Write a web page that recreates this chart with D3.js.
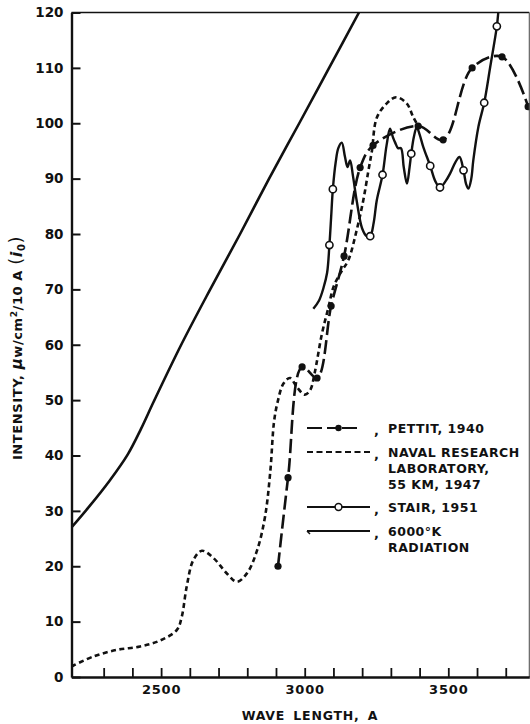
<!DOCTYPE html>
<html>
<head>
<meta charset="utf-8">
<script src="https://cdn.jsdelivr.net/npm/d3@7/dist/d3.min.js"></script>
<style>
  html, body { margin: 0; padding: 0; background: #fff; }
  svg { display: block; }
  text { font-family: "DejaVu Sans", sans-serif; font-weight: bold; fill: #111; }
</style>
</head>
<body>
<script>
// ---------------- DATA ----------------
// 6000 K black-body radiation curve
const bbCurve = [[2188,27],[2250,30.8],[2320,35.4],[2384,40.2],[2430,44.8],[2474,49.7],[2570,60],[2671,70],[2775,80],[2876,90],[2981,100],[3085,110],[3189,120]];

// Naval Research Laboratory, 55 km, 1947 (short dashes)
const nrlCurve = [[2188,1.9],[2264,3.7],[2346,4.9],[2427,5.5],[2497,6.6],[2555,8.5],[2572,10.9],[2589,16.3],[2612,21.1],[2642,22.8],[2682,21.5],[2729,18.7],[2764,17.2],[2800,18.8],[2835,23],[2862,29],[2880,37],[2893,46],[2905,49.5],[2926,53],[2949,54],[2972,52.4],[3000,51],[3019,51.8],[3035,55],[3060,62],[3083,66.8],[3100,70.4],[3125,73],[3152,75.3],[3181,80.7],[3204,86.1],[3222,91.5],[3234,95],[3251,101],[3286,103.6],[3318,104.7],[3355,103.6],[3378,101.1],[3395,99.5]];

// Pettit, 1940 (long dashes, filled dots)
const pettitPoints = [[2907,20],[2942,36],[2991,56],[3043,54],[3092,67],[3137,76],[3193,92],[3238,96],[3395,99.5],[3482,97],[3583,110],[3687,112],[3778,103]];

// Stair, 1951 (solid line, open circles)
const stairCurve = [[3030,66.5],[3050,68],[3065,70.2],[3078,73],[3086,78],[3092,83],[3098,88.1],[3108,93],[3117,95.5],[3129,96.5],[3140,94],[3149,92.1],[3158,93.3],[3168,90.5],[3181,86],[3200,81],[3216,79.6],[3228,79.6],[3240,82],[3251,86.1],[3271,90.7],[3285,96],[3297,99],[3307,97.5],[3315,96.5],[3325,95.5],[3335,95.5],[3345,92],[3356,89.1],[3365,92],[3371,94.5],[3380,97.5],[3390,99.3],[3400,98],[3413,95.7],[3437,92.3],[3455,89.5],[3471,88.4],[3490,89.5],[3506,90.9],[3525,93],[3539,93.9],[3553,91.5],[3562,89],[3570,88.2],[3580,90],[3587,93.3],[3605,99.4],[3625,103.7],[3646,110.2],[3669,117.5],[3674,120],[3676,121]];
const stairPoints = [[3086,78],[3098,88.1],[3228,79.6],[3271,90.7],[3371,94.5],[3437,92.3],[3471,88.4],[3553,91.5],[3625,103.7],[3669,117.5]];

// Axis ticks
const xTickValues = [2300,2400,2500,2600,2700,2800,2900,3000,3100,3200,3300,3400,3500,3600,3700];
const xTickLabels = [2500,3000,3500];
const yTickValues = [0,10,20,30,40,50,60,70,80,90,100,110,120];

// Legend labels
const legendLabels = [
  ["PETTIT, 1940"],
  ["NAVAL  RESEARCH", "LABORATORY,", "55 KM, 1947"],
  ["STAIR, 1951"],
  ["6000°K", "RADIATION"]
];

// ---------------- CHART ----------------
const W = 530, H = 724;
const svg = d3.select("body").append("svg").attr("width", W).attr("height", H);
svg.append("rect").attr("width", W).attr("height", H).attr("fill", "#fff");

const x = d3.scaleLinear().domain([2188, 3782]).range([71.5, 529.3]);
const y = d3.scaleLinear().domain([0, 120]).range([677, 12.5]);

svg.append("defs").append("clipPath").attr("id", "plot")
  .append("rect").attr("x", x.range()[0]).attr("y", y(120)).attr("width", x.range()[1] - x.range()[0] + 2).attr("height", y(0) - y(120));

const g = svg.append("g").attr("clip-path", "url(#plot)");
const line = d3.line().x(d => x(d[0])).y(d => y(d[1])).curve(d3.curveCatmullRom.alpha(0.5));

// frame
svg.append("line").attr("x1", x.range()[0]).attr("x2", x.range()[1]).attr("y1", y(120)).attr("y2", y(120)).attr("stroke", "#111").attr("stroke-width", 1.6);
svg.append("line").attr("x1", x.range()[1]).attr("x2", x.range()[1]).attr("y1", y(120)).attr("y2", y(0)).attr("stroke", "#555").attr("stroke-width", 1.1);

// curves
g.append("path").datum(bbCurve).attr("d", line).attr("fill", "none").attr("stroke", "#111").attr("stroke-width", 2.6);
g.append("path").datum(nrlCurve).attr("d", line).attr("fill", "none").attr("stroke", "#111").attr("stroke-width", 2.6).attr("stroke-dasharray", "5,3.5");
g.append("path").datum(pettitPoints).attr("d", line).attr("fill", "none").attr("stroke", "#111").attr("stroke-width", 2.6).attr("stroke-dasharray", "14,5");
g.append("path").datum(stairCurve).attr("d", line).attr("fill", "none").attr("stroke", "#111").attr("stroke-width", 2.4);

g.selectAll("circle.pettit").data(pettitPoints).join("circle").attr("class", "pettit")
  .attr("cx", d => x(d[0])).attr("cy", d => y(d[1])).attr("r", 3.6).attr("fill", "#111");
g.selectAll("circle.stair").data(stairPoints).join("circle").attr("class", "stair")
  .attr("cx", d => x(d[0])).attr("cy", d => y(d[1])).attr("r", 3.6).attr("fill", "#fff").attr("stroke", "#111").attr("stroke-width", 1.6);

// axes
const yAxis = d3.axisLeft(y).tickValues(yTickValues).tickSizeInner(-9).tickSizeOuter(0).tickPadding(8).tickFormat(d3.format("d"));
const ya = svg.append("g").attr("transform", `translate(${x.range()[0]},0)`).call(yAxis);
ya.select(".domain").attr("stroke", "#111").attr("stroke-width", 2.4);
ya.selectAll(".tick line").attr("stroke", "#111").attr("stroke-width", 2);
ya.selectAll(".tick text").style("font-size", "13.5px").style("font-family", "DejaVu Sans").style("font-weight", "bold").attr("fill", "#111");

const xAxis = d3.axisBottom(x).tickValues(xTickValues).tickSizeInner(-9).tickSizeOuter(0).tickPadding(8)
  .tickFormat(d => xTickLabels.includes(d) ? String(d) : "");
const xa = svg.append("g").attr("transform", `translate(0,${y(0)})`).call(xAxis);
xa.select(".domain").attr("stroke", "#111").attr("stroke-width", 2.6);
xa.selectAll(".tick line").attr("stroke", "#111").attr("stroke-width", 1.8);
xa.selectAll(".tick text").style("font-size", "13px").style("font-family", "DejaVu Sans").style("font-weight", "bold").attr("fill", "#111").attr("letter-spacing", "0.8");

// axis titles
svg.append("text").attr("x", 310).attr("y", 720).attr("text-anchor", "middle")
  .style("font-size", "12.5px").attr("letter-spacing", "0.8").attr("word-spacing", "3").text("WAVE LENGTH, A");

const yt = svg.append("text").attr("transform", "translate(22,348) rotate(-90)").attr("text-anchor", "middle")
  .style("font-size", "13px").attr("letter-spacing", "0.6");
yt.append("tspan").text("INTENSITY, ");
yt.append("tspan").style("font-style", "italic").style("font-size", "15px").text("μ");
yt.append("tspan").text("w/cm");
yt.append("tspan").attr("dy", -5).style("font-size", "9px").text("2");
yt.append("tspan").attr("dy", 5).text("/10 A ");
yt.append("tspan").style("font-size", "18px").style("font-weight", "normal").text("(");
yt.append("tspan").style("font-style", "italic").style("font-size", "16px").text("i");
yt.append("tspan").attr("dy", 3).style("font-size", "10px").text("0");
yt.append("tspan").attr("dy", -3).style("font-size", "18px").style("font-weight", "normal").text(")");

// legend
const lx1 = 307, lx2 = 370, tx = 388;
const rowsY = [428, 452, 507, 531];
const lg = svg.append("g");
// Pettit sample
lg.append("line").attr("x1", lx1).attr("x2", lx2).attr("y1", rowsY[0]).attr("y2", rowsY[0]).attr("stroke", "#111").attr("stroke-width", 2).attr("stroke-dasharray", "15,5,5,0,5,5,15");
lg.append("circle").attr("cx", 338.5).attr("cy", rowsY[0]).attr("r", 3.2).attr("fill", "#111");
// NRL sample
lg.append("line").attr("x1", lx1).attr("x2", lx2).attr("y1", rowsY[1]).attr("y2", rowsY[1]).attr("stroke", "#111").attr("stroke-width", 2).attr("stroke-dasharray", "6,3.5");
// Stair sample
lg.append("line").attr("x1", lx1).attr("x2", lx2).attr("y1", rowsY[2]).attr("y2", rowsY[2]).attr("stroke", "#111").attr("stroke-width", 1.8);
lg.append("circle").attr("cx", 338.5).attr("cy", rowsY[2]).attr("r", 3.4).attr("fill", "#fff").attr("stroke", "#111").attr("stroke-width", 1.5);
// 6000K sample
lg.append("line").attr("x1", lx1).attr("x2", lx2).attr("y1", rowsY[3]).attr("y2", rowsY[3]).attr("stroke", "#111").attr("stroke-width", 1.8);
lg.append("line").attr("x1", lx1).attr("x2", lx1 + 3).attr("y1", rowsY[3]).attr("y2", rowsY[3] + 3).attr("stroke", "#111").attr("stroke-width", 1.5);

legendLabels.forEach((lines, i) => {
  lg.append("text").attr("x", 374).attr("y", rowsY[i] + 7).style("font-size", "13px").text(",");
  lines.forEach((t, j) => {
    lg.append("text").attr("x", tx).attr("y", rowsY[i] + 5 + j * 16)
      .style("font-size", "12.5px").attr("letter-spacing", "0.5").text(t);
  });
});
</script>
</body>
</html>
